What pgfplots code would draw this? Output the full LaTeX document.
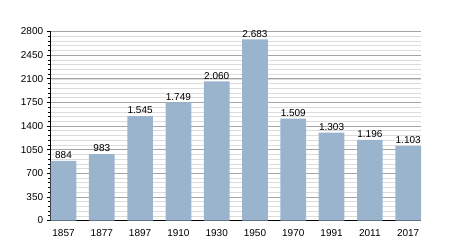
\documentclass[border=0pt]{standalone}
\usepackage{pgfplots}
\pgfplotsset{compat=1.18}
\usepackage{fontspec}
\setmainfont{Liberation Sans}
\definecolor{barblue}{RGB}{154,180,206}
\definecolor{majgrid}{RGB}{165,165,165}
\definecolor{mingrid}{RGB}{220,220,220}
\begin{document}
\begin{tikzpicture}
\path[use as bounding box] (0,0) rectangle (450pt,250pt);
\begin{axis}[
  at={(50.7pt,29.5pt)}, anchor=south west,
  scale only axis, width=370.3pt, height=189pt,
  xmin=-0.335, xmax=9.335, ymin=0, ymax=2800,
  axis x line*=bottom, axis y line*=left,
  axis line style={black, line width=0.8pt},
  xtick={0,...,9}, xticklabels={1857,1877,1897,1910,1930,1950,1970,1991,2011,2017},
  x tick style={draw=none},
  xticklabel style={yshift=-1pt},
  ytick={0,350,...,2800},
  minor ytick={70,140,...,2800},
  ymajorgrids, yminorgrids,
  major grid style={majgrid, line width=0.7pt},
  minor grid style={mingrid, line width=0.5pt},
  y tick style={black, line width=0.6pt},
  tick align=outside,
  major tick length=4pt, minor tick length=3pt,
  tick label style={font=\fontsize{10}{11}\selectfont},
  /pgf/number format/assume math mode=true,
  yticklabel style={/pgf/number format/1000 sep={}},
  clip=false,
]
\addplot[ybar, bar width=25.7pt, fill=barblue, draw=none,
  nodes near coords={\pgfmathprintnumber[1000 sep={.},assume math mode=true]{\pgfplotspointmeta}},
  every node near coord/.append style={font=\fontsize{10}{11}\selectfont, black, inner sep=1.5pt, yshift=0.5pt}]
coordinates {(0,884) (1,983) (2,1545) (3,1749) (4,2060) (5,2683) (6,1509) (7,1303) (8,1196) (9,1103)};
\end{axis}
\end{tikzpicture}
\end{document}
